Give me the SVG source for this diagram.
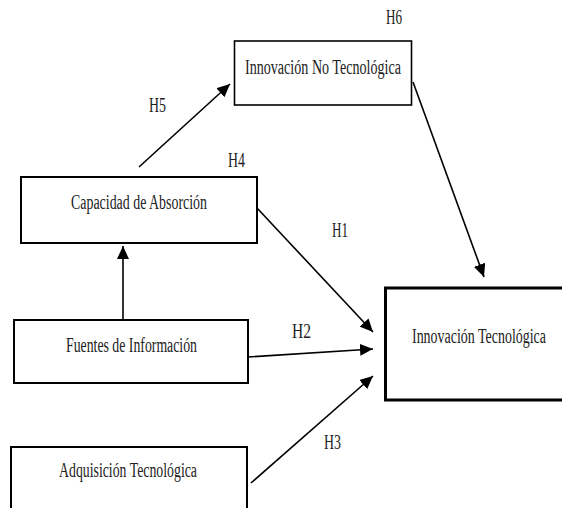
<svg xmlns="http://www.w3.org/2000/svg" width="562" height="508" viewBox="0 0 562 508">
  <style>
    .box { fill: #fff; stroke: #000; }
    .lbl { font-family: "Liberation Serif", "Times New Roman", serif; font-size: 20px; fill: #222; }
    .hyp { font-family: "Liberation Serif", "Times New Roman", serif; font-size: 20px; fill: #222; }
    .edge { stroke: #000; stroke-width: 1.6; fill: none; marker-end: url(#arrow); }
  </style>
  <defs>
    <marker id="arrow" markerUnits="userSpaceOnUse" markerWidth="14" markerHeight="12" viewBox="0 0 14 12" refX="13" refY="6" orient="auto">
      <path d="M0,0 L13,6 L0,12 Z" fill="#000"/>
    </marker>
  </defs>
  <rect width="562" height="508" fill="#fff"/>

  <g id="connectors">
    <line class="edge" x1="139" y1="167" x2="230" y2="84"/>
    <line class="edge" x1="123" y1="320" x2="123" y2="246"/>
    <line class="edge" x1="257" y1="208" x2="373" y2="332"/>
    <line class="edge" x1="248" y1="357" x2="373" y2="349"/>
    <line class="edge" x1="251" y1="483" x2="373" y2="376"/>
    <line class="edge" x1="413" y1="82" x2="484" y2="277"/>
  </g>

  <g id="innovacion-no-tecnologica">
    <rect class="box" x="234.5" y="41" width="177" height="64" stroke-width="1.6"/>
    <text class="lbl" x="245" y="74" textLength="156" lengthAdjust="spacingAndGlyphs">Innovación No Tecnológica</text>
  </g>
  <g id="capacidad-absorcion">
    <rect class="box" x="21" y="177" width="236" height="66" stroke-width="2"/>
    <text class="lbl" x="71" y="209" textLength="136" lengthAdjust="spacingAndGlyphs">Capacidad de Absorción</text>
  </g>
  <g id="fuentes-informacion">
    <rect class="box" x="14" y="320" width="234" height="63" stroke-width="2"/>
    <text class="lbl" x="66" y="352" textLength="131" lengthAdjust="spacingAndGlyphs">Fuentes de Información</text>
  </g>
  <g id="innovacion-tecnologica">
    <!-- box runs on past the right edge of the page -->
    <path class="box" d="M562,288 H385.5 V400 H562" stroke-width="3"/>
    <text class="lbl" x="412" y="343" textLength="134" lengthAdjust="spacingAndGlyphs">Innovación Tecnológica</text>
  </g>
  <g id="adquisicion-tecnologica">
    <!-- box runs on past the bottom edge of the page -->
    <path class="box" d="M11,508 V447 H247 V508" stroke-width="2"/>
    <text class="lbl" x="59" y="477" textLength="138" lengthAdjust="spacingAndGlyphs">Adquisición Tecnológica</text>
  </g>

  <g id="hypotheses">
    <text class="hyp" x="386" y="24" textLength="16" lengthAdjust="spacingAndGlyphs">H6</text>
    <text class="hyp" x="149" y="112" textLength="17" lengthAdjust="spacingAndGlyphs">H5</text>
    <text class="hyp" x="228" y="167" textLength="17" lengthAdjust="spacingAndGlyphs">H4</text>
    <text class="hyp" x="332" y="237" textLength="16" lengthAdjust="spacingAndGlyphs">H1</text>
    <text class="hyp" x="292" y="338" textLength="19" lengthAdjust="spacingAndGlyphs">H2</text>
    <text class="hyp" x="324" y="449" textLength="17" lengthAdjust="spacingAndGlyphs">H3</text>
  </g>
</svg>
